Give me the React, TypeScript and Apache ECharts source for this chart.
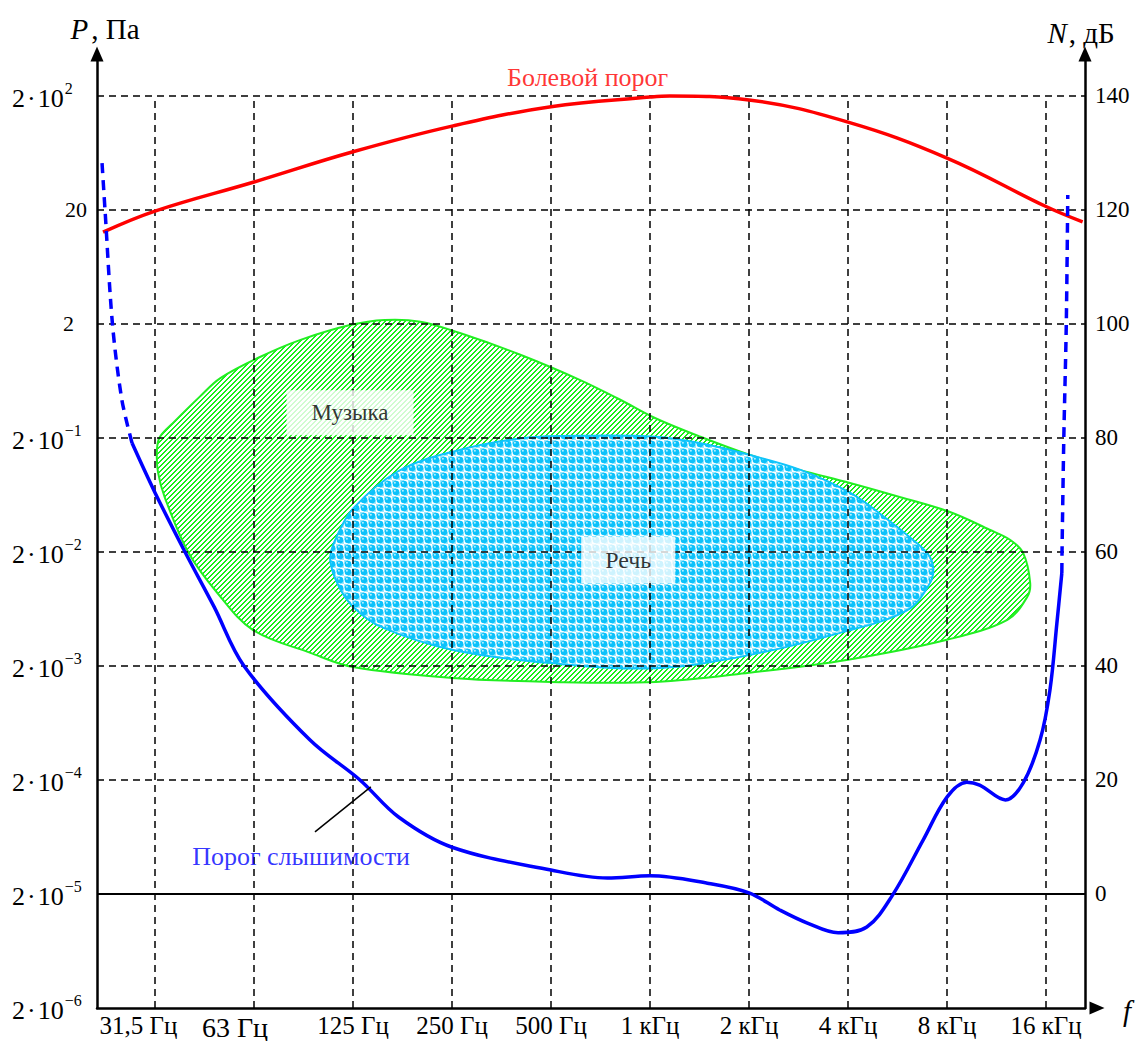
import React, { useEffect, useRef } from "react";
import * as echarts from "echarts";

// Frequency axis is measured in octaves above 31.5 Hz (0 = 31.5 Hz … 9 = 16 kHz)
const octaves = [0, 1, 2, 3, 4, 5, 6, 7, 8, 9];
const freqLabels = ["31,5 Гц", "63 Гц", "125 Гц", "250 Гц", "500 Гц", "1 кГц", "2 кГц", "4 кГц", "8 кГц", "16 кГц"];

// Sound level, dB (right axis) and sound pressure, Pa (left axis)
const levelTicks = [-20, 0, 20, 40, 60, 80, 100, 120, 140];
const pressureBase = ["2·10", "2·10", "2·10", "2·10", "2·10", "2·10", "2", "20", "2·10"];
const pressureExp = ["−6", "−5", "−4", "−3", "−2", "−1", "", "", "2"];
const rightLabels = ["", "0", "20", "40", "60", "80", "100", "120", "140"];

const X_MIN = -0.586;
const X_MAX = 9.394;
const Y_MIN = -20;
const Y_MAX = 147;

// Threshold of pain [octave, dB]
const painThreshold = [
  [-0.525, 116.1], [0, 119.8], [1, 124.9], [2, 130.2], [3, 134.7], [4, 138.1],
  [5, 139.8], [5.2, 140.0], [6, 139.3], [7, 135.4], [8, 129.1], [9, 120.6], [9.37, 117.9],
];

// Threshold of hearing [octave, dB]: extrapolated low end, measured part, extrapolated high end
const hearingLow = [
  [-0.535, 128.2], [-0.505, 120.0], [-0.43, 100.0], [-0.335, 86.7], [-0.232, 79.1],
];
const hearingMain = [
  [-0.232, 79.1], [0, 70.4], [0.303, 60], [0.596, 50.4], [0.899, 40],
  [1.566, 27.0], [2.07, 20], [2.46, 13.5], [3.0, 8.2], [4.0, 4.2], [4.57, 2.8],
  [5.0, 3.2], [5.58, 1.9], [6.0, 0.2], [6.31, -2.8], [6.59, -5.1], [6.9, -6.8],
  [7.19, -5.8], [7.45, -0.2], [7.76, 9.5], [8.0, 17.0], [8.2, 19.6], [8.33, 19.1],
  [8.59, 16.5], [8.77, 19.5], [8.94, 27.0], [9.04, 35.8], [9.11, 47.5], [9.16, 56.3],
];
const hearingHigh = [
  [9.16, 56.3], [9.162, 60], [9.18, 80], [9.205, 100], [9.22, 122.6],
];

// Music region outline [octave, dB]
const musicArea = [
  [0.02, 78.0], [0.05, 80.2], [0.18, 82.6], [0.45, 87.2], [0.66, 90.5], [1.06, 94.2],
  [1.47, 97.2], [1.97, 99.8], [2.32, 100.7], [2.68, 100.4], [3.08, 98.4], [3.69, 94.6],
  [4.29, 90.2], [4.7, 86.7], [5.05, 83.5], [5.51, 80.2], [6.01, 77.0], [6.51, 74.4],
  [7.02, 72.1], [7.53, 69.6], [8.03, 67.0], [8.43, 63.9], [8.64, 62.1], [8.77, 59.8],
  [8.84, 54.6], [8.81, 52.1], [8.61, 48.1], [8.0, 44.6], [7.0, 41.1], [6.0, 38.8],
  [5.06, 37.2], [4.0, 37.2], [3.0, 37.9], [2.0, 39.8], [1.57, 42.3], [0.99, 46.3],
  [0.63, 52.8], [0.34, 59.8], [0.1, 69.5], [0.03, 74.0],
];

// Speech region outline [octave, dB]
const speechArea = [
  [1.77, 58.6], [1.82, 62.1], [2.0, 67.6], [2.46, 74.2], [3.01, 77.6], [3.73, 80.0],
  [4.39, 80.4], [5.06, 80.2], [5.5, 79.1], [6.01, 77.0], [6.52, 74.4], [7.02, 70.4],
  [7.37, 66.1], [7.63, 62.5], [7.8, 59.8], [7.86, 57.4], [7.83, 54.6], [7.6, 49.8],
  [6.92, 45.8], [6.0, 41.9], [5.06, 39.6], [4.0, 40.5], [3.01, 42.8], [2.29, 46.8],
  [2.0, 50.4], [1.85, 54.2],
];

// Annotation anchors [octave, dB]
const painLabelAt = [4.37, 143.3];
const hearingLabelAt = [1.475, 6.5];
const hearingLeader = [[1.616, 10.9], [2.18, 18.8]];
const musicLabelAt = [1.97, 84.4];
const speechLabelAt = [4.78, 58.6];

const SERIF = "'Liberation Serif', 'Times New Roman', serif";

function serif(size: number, color = "#000", extra: any = {}) {
  return { fontFamily: SERIF, fontSize: size, color, ...extra };
}

function hatchPattern() {
  // crisp "/" hatching, one pixel at a time
  const s = 5;
  const c = document.createElement("canvas");
  c.width = s;
  c.height = s;
  const g = c.getContext("2d")!;
  g.fillStyle = "#ffffff";
  g.fillRect(0, 0, s, s);
  g.fillStyle = "#18f018";
  for (let y = 0; y < s; y++) {
    for (let x = 0; x < s; x++) {
      if ((x + y) % s < 2) g.fillRect(x, y, 1, 1);
    }
  }
  return { image: c.toDataURL(), repeat: "repeat", imageWidth: s, imageHeight: s };
}

function bubblePattern() {
  // cyan beads on a white/light-cyan checker
  const s = 8;
  const c = document.createElement("canvas");
  c.width = s;
  c.height = s;
  const g = c.getContext("2d")!;
  g.fillStyle = "#ffffff";
  g.fillRect(0, 0, s, s);
  g.fillStyle = "#9be6fb";
  g.fillRect(0, 0, 4, 4);
  g.fillRect(4, 4, 4, 4);
  g.fillStyle = "#0cc2fb";
  g.beginPath();
  g.arc(4, 4, 3.3, 0, Math.PI * 2);
  g.fill();
  g.fillStyle = "#b4f0ff";
  g.beginPath();
  g.arc(2.9, 2.8, 1.0, 0, Math.PI * 2);
  g.fill();
  return { image: c.toDataURL(), repeat: "repeat", imageWidth: s, imageHeight: s };
}

function regionSeries(points: number[][], fill: any, stroke: string, z: number) {
  return {
    type: "custom",
    coordinateSystem: "cartesian2d",
    data: [[points[0][0], points[0][1]]],
    z,
    silent: true,
    clip: false,
    renderItem: (_params: any, api: any) => ({
      type: "polygon",
      shape: { points: points.map((p) => api.coord(p)), smooth: 0.35 },
      style: { fill, stroke, lineWidth: 2 },
    }),
  };
}

function labelPoint(at: number[], text: string, tok: any, box: any = {}) {
  return {
    value: at,
    label: {
      show: true,
      position: "inside",
      formatter: `{t|${text}}`,
      rich: { t: tok },
      ...box,
    },
  };
}

export default function App() {
  const ref = useRef<HTMLDivElement>(null);

  useEffect(() => {
    if (!ref.current) return;
    const chart = echarts.init(ref.current, undefined, { renderer: "svg" });

    const dash = [7, 5];
    const gridLines: any[] = [];
    octaves.forEach((k) => {
      gridLines.push([
        { coord: [k, -20], lineStyle: { type: dash, color: "#000", width: 1.5 } },
        { coord: [k, 140] },
      ]);
    });
    levelTicks.forEach((v) => {
      if (v <= -20) return;
      gridLines.push([
        {
          coord: [X_MIN, v],
          lineStyle: v === 0 ? { type: "solid", color: "#000", width: 2 } : { type: dash, color: "#000", width: 1.5 },
        },
        { coord: [X_MAX, v] },
      ]);
    });

    const axisLineBase = {
      show: true,
      onZero: false,
      lineStyle: { color: "#000", width: 2.5 },
      symbol: ["none", "triangle"],
      symbolSize: [13, 15],
    };

    const baseTok = serif(26, "#000", { padding: [5, 0, 0, 0] });

    const option: any = {
      animation: false,
      backgroundColor: "#ffffff",
      grid: { left: 97, right: 1139 - 1085, top: 56, bottom: 1041 - 1008, containLabel: false },
      xAxis: {
        type: "value",
        min: X_MIN,
        max: X_MAX,
        axisLine: { ...axisLineBase, symbolOffset: [0, 12] },
        axisTick: { show: false },
        splitLine: { show: false },
        axisLabel: {
          customValues: octaves,
          margin: 5,
          formatter: (v: number) => {
            const i = Math.round(v);
            const t = freqLabels[i] ?? "";
            if (i === 0) return `{first|${t}}`;
            if (i === 1) return `{second|${t}}`;
            return `{f|${t}}`;
          },
          rich: {
            f: serif(25),
            first: serif(25, "#000", { padding: [0, 33, 0, 0] }),
            second: serif(28, "#000", { padding: [0, 38, 0, 0] }),
          },
        },
      },
      yAxis: [
        {
          type: "value",
          min: Y_MIN,
          max: Y_MAX,
          interval: 20,
          position: "left",
          axisLine: { ...axisLineBase, symbolOffset: [0, 2] },
          axisTick: { show: false },
          splitLine: { show: false },
          axisLabel: {
            align: "left",
            margin: 85,
            formatter: (v: number) => {
              const i = levelTicks.indexOf(v);
              if (i < 0) return "";
              const b = pressureBase[i];
              const e = pressureExp[i];
              if (e) return `{b|2}{d|·}{b|10}{s|${e}}`;
              return b === "20" ? `{p20|${b}}` : `{p2|${b}}`;
            },
            rich: {
              b: baseTok,
              d: { ...baseTok, padding: [5, 2, 0, 2] },
              s: serif(16, "#000", { verticalAlign: "top", padding: [0, 0, 0, 1] }),
              p20: serif(22, "#000", { padding: [0, 0, 0, 53] }),
              p2: serif(22, "#000", { padding: [0, 0, 0, 51] }),
            },
          },
        },
        {
          type: "value",
          min: Y_MIN,
          max: Y_MAX,
          interval: 20,
          position: "right",
          axisLine: { ...axisLineBase, symbolOffset: [0, 2] },
          axisTick: { show: false },
          splitLine: { show: false },
          axisLabel: {
            margin: 10,
            formatter: (v: number) => {
              const i = levelTicks.indexOf(v);
              return i < 0 || !rightLabels[i] ? "" : `{r|${rightLabels[i]}}`;
            },
            rich: { r: serif(23) },
          },
        },
      ],
      graphic: [
        {
          type: "text",
          x: 105,
          y: 29,
          style: {
            text: "{i|P}{n|, Па}",
            align: "center",
            verticalAlign: "middle",
            rich: {
              i: { fontFamily: SERIF, fontSize: 29, fontStyle: "italic", fill: "#000" },
              n: { fontFamily: SERIF, fontSize: 29, fill: "#000", padding: [0, 0, 0, 3] },
            },
          },
        },
        {
          type: "text",
          x: 1081,
          y: 33,
          style: {
            text: "{i|N}{n|, дБ}",
            align: "center",
            verticalAlign: "middle",
            rich: {
              i: { fontFamily: SERIF, fontSize: 29, fontStyle: "italic", fill: "#000" },
              n: { fontFamily: SERIF, fontSize: 29, fill: "#000", padding: [0, 0, 0, 2] },
            },
          },
        },
        {
          type: "text",
          x: 1127,
          y: 1011,
          style: {
            text: "{i|f}",
            align: "center",
            verticalAlign: "middle",
            rich: {
              i: { fontFamily: SERIF, fontSize: 29, fontStyle: "italic", fill: "#000" },
            },
          },
        },
      ],
      series: [
        {
          name: "grid",
          type: "line",
          data: [],
          z: 1,
          silent: true,
          markLine: {
            silent: true,
            symbol: ["none", "none"],
            label: { show: false },
            animation: false,
            data: gridLines,
          },
        },
        regionSeries(musicArea, hatchPattern(), "#22ee22", 2),
        regionSeries(speechArea, bubblePattern(), "#10c4fb", 3),
        {
          name: "Болевой порог",
          type: "line",
          data: painThreshold,
          smooth: 0.4,
          showSymbol: false,
          z: 5,
          lineStyle: { color: "#ff0000", width: 3.5 },
        },
        {
          name: "Порог слышимости",
          type: "line",
          data: hearingMain,
          smooth: 0.35,
          showSymbol: false,
          z: 5,
          lineStyle: { color: "#0000ff", width: 3.5 },
        },
        {
          type: "line",
          data: hearingLow,
          smooth: 0.3,
          showSymbol: false,
          z: 5,
          lineStyle: { color: "#0000ff", width: 3.5, type: [10, 7] },
        },
        {
          type: "line",
          data: hearingHigh,
          smooth: 0.3,
          showSymbol: false,
          z: 5,
          lineStyle: { color: "#0000ff", width: 3.5, type: [10, 7] },
        },
        {
          type: "line",
          data: hearingLeader,
          showSymbol: false,
          z: 5,
          lineStyle: { color: "#000", width: 1.5 },
        },
        {
          type: "scatter",
          symbolSize: 1,
          itemStyle: { color: "rgba(0,0,0,0)" },
          z: 6,
          silent: true,
          data: [
            labelPoint(painLabelAt, "Болевой порог", serif(26, "#ff0000")),
            labelPoint(hearingLabelAt, "Порог слышимости", serif(26, "#0000ff")),
            labelPoint(musicLabelAt, "Музыка", serif(23), {
              backgroundColor: "#ffffff",
              padding: [11, 25, 11, 25],
            }),
            labelPoint(speechLabelAt, "Речь", serif(24), {
              backgroundColor: "#ffffff",
              padding: [11, 24, 11, 24],
            }),
          ],
        },
      ],
    };

    chart.setOption(option);
    return () => chart.dispose();
  }, []);

  return (
    <div
      ref={ref}
      style={{ position: "fixed", left: 0, top: 0, width: 1139, height: 1041, background: "#fff" }}
    />
  );
}
